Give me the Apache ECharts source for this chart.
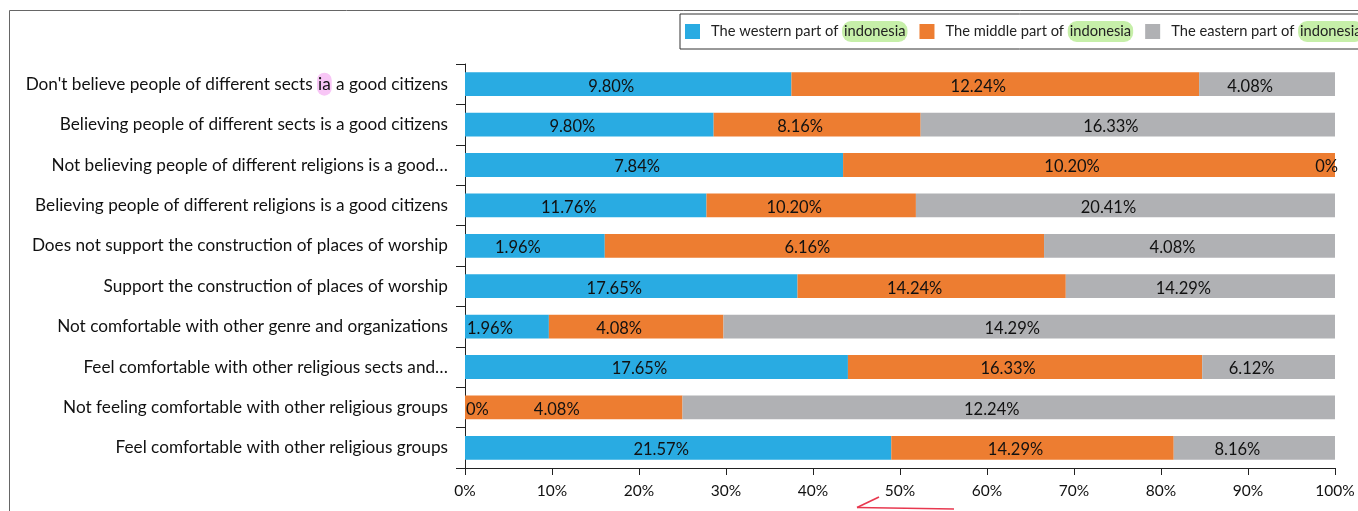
<!DOCTYPE html>
<html>
<head>
<meta charset="utf-8">
<script src="https://cdn.jsdelivr.net/npm/echarts@6/dist/echarts.min.js"></script>
<style>
  html, body { margin: 0; padding: 0; background: #fff; }
  #chart { width: 1358px; height: 511px; }
</style>
</head>
<body>
<div id="chart"></div>
<script>
// Survey answers, listed top to bottom as they appear on the chart
const categories = [
  "Don't believe people of different sects ia a good citizens",
  "Believing people of different sects is a good citizens",
  "Not believing people of different religions is a good…",
  "Believing people of different religions is a good citizens",
  "Does not support the construction of places of worship",
  "Support the construction of places of worship",
  "Not comfortable with other genre and organizations",
  "Feel comfortable with other religious sects and…",
  "Not feeling comfortable with other religious groups",
  "Feel comfortable with other religious groups"
];

const seriesNames = [
  "The western part of indonesia",
  "The middle part of indonesia",
  "The eastern part of indonesia"
];

// Percent of respondents per region
const western = [9.80, 9.80, 7.84, 11.76, 1.96, 17.65, 1.96, 17.65, 0, 21.57];
const middle  = [12.24, 8.16, 10.20, 10.20, 6.16, 14.24, 4.08, 16.33, 4.08, 14.29];
const eastern = [4.08, 16.33, 0, 20.41, 4.08, 14.29, 14.29, 6.12, 12.24, 8.16];

const xTicks = [0, 10, 20, 30, 40, 50, 60, 70, 80, 90, 100];

const colors = ['#29abe2', '#ed7d31', '#b0b1b4'];
const FONT = 'Lato, "Open Sans", sans-serif';

const raw = [western, middle, eastern];
const totals = categories.map((_, i) => western[i] + middle[i] + eastern[i]);

function fmt(v) {
  return v === 0 ? '0%' : v.toFixed(2) + '%';
}

// Each bar is the region's share of the row total; its label shows the raw percent
function buildData(arr, sIdx) {
  return arr.map((v, i) => {
    const item = { value: v / totals[i] * 100, raw: v };
    if (v === 0) {
      item.label = sIdx === 0
        ? { position: 'insideLeft', distance: 1, offset: [0, 2] }
        : { position: 'insideRight', distance: 0, offset: [3, 2] };
    }
    return item;
  });
}

const series = raw.map((arr, s) => ({
  name: seriesNames[s],
  type: 'bar',
  stack: 'total',
  barCategoryGap: '41%',
  itemStyle: { color: colors[s] },
  label: {
    show: true,
    position: 'inside',
    offset: [-17, 2],
    color: '#111',
    fontFamily: FONT,
    fontSize: 16.5,
    formatter: p => fmt(p.data.raw)
  },
  emphasis: { disabled: true },
  data: buildData(arr, s)
}));

const chart = echarts.init(document.getElementById('chart'));
chart.setOption({
  animation: false,
  color: colors,
  textStyle: { fontFamily: FONT },
  grid: { left: 465, right: 23, top: 64, bottom: 43, containLabel: false },
  legend: {
    left: 680,
    top: 14,
    width: 900,
    padding: [7, 5, 7, 5],
    borderColor: '#333',
    borderWidth: 1,
    itemWidth: 15,
    itemHeight: 15,
    itemGap: 12,
    icon: 'rect',
    data: seriesNames,
    formatter: name => name.replace('indonesia', '{h|indonesia}'),
    textStyle: {
      color: '#222',
      fontFamily: FONT,
      fontSize: 14.7,
      padding: [0, 0, 0, 6],
      rich: {
        h: {
          fontFamily: FONT,
          fontSize: 14.7,
          color: '#222',
          backgroundColor: '#c6efa9',
          borderRadius: 9,
          padding: [3, 2, 3, 2]
        }
      }
    }
  },
  xAxis: {
    type: 'value',
    min: 0,
    max: 100,
    interval: 10,
    axisLine: { show: true, lineStyle: { color: '#222', width: 1 } },
    axisTick: { show: true, length: 7, lineStyle: { color: '#222' } },
    splitLine: { show: false },
    axisLabel: {
      color: '#111',
      fontFamily: FONT,
      fontSize: 15.5,
      margin: 15,
      customValues: xTicks,
      formatter: v => v + '%'
    }
  },
  yAxis: {
    type: 'category',
    inverse: true,
    data: categories,
    axisLine: { show: true, lineStyle: { color: '#222', width: 1 } },
    axisTick: { show: true, length: 9, lineStyle: { color: '#222' } },
    axisLabel: {
      color: '#111',
      fontFamily: FONT,
      fontSize: 17.2,
      margin: 17,
      formatter: v => v.replace(' ia ', ' {hl|ia} '),
      rich: {
        hl: {
          color: '#111',
          fontFamily: FONT,
          fontSize: 17.2,
          backgroundColor: '#f8c6f6',
          borderRadius: 8,
          padding: [3, 1, 3, 1]
        }
      }
    }
  },
  series: series,
  graphic: [
    // outer frame (top and left edges)
    { type: 'polyline', silent: true, shape: { points: [[9.5, 511], [9.5, 10.5], [1358, 10.5]] },
      style: { stroke: '#666', lineWidth: 1, fill: null } },
    // red pointer arrow under the axis
    { type: 'polyline', silent: true, shape: { points: [[954, 509], [857, 507.5]] },
      style: { stroke: '#e8384f', lineWidth: 1.6, fill: null } },
    { type: 'polyline', silent: true, shape: { points: [[857, 507.5], [879, 497]] },
      style: { stroke: '#e8384f', lineWidth: 1.6, fill: null } }
  ]
});
</script>
</body>
</html>
